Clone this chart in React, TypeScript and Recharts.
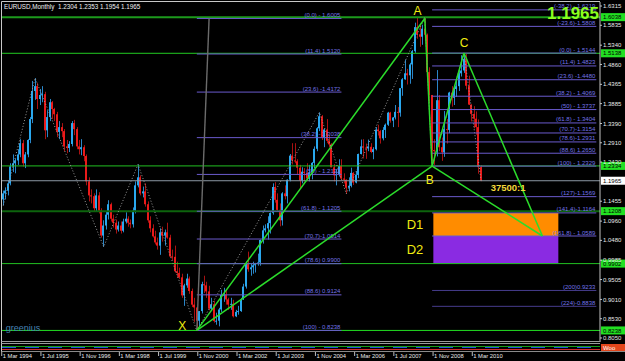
import React from "react";
import {
  ComposedChart,
  Bar,
  Line,
  XAxis,
  YAxis,
  ReferenceLine,
  ReferenceArea,
  ReferenceDot,
} from "recharts";

const FONT = "'Liberation Sans', Arial, sans-serif";

// monthly EURUSD, Mar 1994 .. Jun 2010 (index 0 = Mar 1994)
const opens = [
  1.150, 1.165, 1.172, 1.190, 1.232, 1.240, 1.247, 1.262, 1.290, 1.240,
  1.262, 1.298, 1.350, 1.420, 1.432, 1.400, 1.410, 1.412, 1.322, 1.355, 1.392, 1.375,
  1.362, 1.318, 1.330, 1.320, 1.282, 1.278, 1.288, 1.340, 1.325, 1.282, 1.275, 1.280,
  1.258, 1.195, 1.160, 1.158, 1.128, 1.160, 1.122, 1.060, 1.085, 1.112, 1.138, 1.102,
  1.092, 1.075, 1.085, 1.072, 1.095, 1.102, 1.092, 1.088, 1.122, 1.185, 1.205, 1.165,
  1.170, 1.138, 1.098, 1.078, 1.058, 1.043, 1.035, 1.068, 1.060, 1.068, 1.055, 1.008,
  1.007, 0.971, 0.967, 0.956, 0.911, 0.936, 0.953, 0.922, 0.888, 0.881, 0.848, 0.872,
  0.939, 0.936, 0.921, 0.878, 0.889, 0.847, 0.848, 0.876, 0.912, 0.913, 0.901, 0.888,
  0.890, 0.859, 0.870, 0.872, 0.901, 0.933, 0.991, 0.976, 0.981, 0.986, 0.989, 0.993,
  1.049, 1.073, 1.078, 1.091, 1.116, 1.181, 1.149, 1.124, 1.098, 1.165, 1.158, 1.199,
  1.259, 1.247, 1.245, 1.229, 1.197, 1.219, 1.216, 1.202, 1.217, 1.241, 1.276, 1.327,
  1.357, 1.304, 1.324, 1.296, 1.287, 1.230, 1.210, 1.213, 1.233, 1.202, 1.199, 1.179,
  1.184, 1.216, 1.192, 1.211, 1.263, 1.282, 1.279, 1.277, 1.281, 1.268, 1.275, 1.324,
  1.320, 1.302, 1.323, 1.336, 1.366, 1.346, 1.354, 1.368, 1.366, 1.427, 1.449, 1.464,
  1.459, 1.486, 1.519, 1.579, 1.561, 1.555, 1.575, 1.560, 1.467, 1.410, 1.273, 1.270,
  1.397, 1.280, 1.267, 1.325, 1.323, 1.416, 1.403, 1.425, 1.432, 1.464, 1.471, 1.500,
  1.433, 1.386, 1.363, 1.351, 1.330, 1.2304,
];
const highs = [
  1.172, 1.180, 1.198, 1.240, 1.262, 1.252, 1.275, 1.300, 1.298, 1.268,
  1.300, 1.355, 1.445, 1.452, 1.440, 1.425, 1.432, 1.418, 1.372, 1.400, 1.395, 1.378,
  1.368, 1.345, 1.340, 1.325, 1.298, 1.295, 1.345, 1.348, 1.330, 1.298, 1.300, 1.285,
  1.262, 1.205, 1.175, 1.165, 1.175, 1.168, 1.128, 1.098, 1.120, 1.148, 1.142, 1.112,
  1.100, 1.095, 1.095, 1.102, 1.118, 1.108, 1.100, 1.130, 1.195, 1.237, 1.210, 1.182,
  1.190, 1.145, 1.108, 1.088, 1.072, 1.055, 1.078, 1.082, 1.075, 1.092, 1.062, 1.025,
  1.035, 0.995, 0.980, 0.965, 0.940, 0.965, 0.958, 0.928, 0.905, 0.882, 0.872, 0.945,
  0.960, 0.945, 0.935, 0.905, 0.898, 0.868, 0.880, 0.925, 0.930, 0.925, 0.905, 0.905,
  0.900, 0.875, 0.885, 0.905, 0.940, 0.995, 1.020, 0.990, 0.995, 0.992, 1.015, 1.050,
  1.085, 1.088, 1.108, 1.118, 1.190, 1.193, 1.165, 1.140, 1.168, 1.185, 1.200, 1.263,
  1.290, 1.290, 1.250, 1.236, 1.230, 1.228, 1.240, 1.236, 1.243, 1.282, 1.330, 1.3667,
  1.360, 1.325, 1.350, 1.310, 1.290, 1.238, 1.225, 1.250, 1.250, 1.215, 1.200, 1.205,
  1.229, 1.218, 1.220, 1.264, 1.299, 1.300, 1.289, 1.299, 1.290, 1.280, 1.330, 1.336,
  1.323, 1.330, 1.339, 1.368, 1.368, 1.355, 1.385, 1.380, 1.427, 1.452, 1.498, 1.475,
  1.490, 1.522, 1.590, 1.602, 1.585, 1.585, 1.6038, 1.563, 1.479, 1.410, 1.300, 1.472,
  1.410, 1.304, 1.370, 1.350, 1.418, 1.432, 1.428, 1.445, 1.478, 1.509, 1.5144, 1.512,
  1.458, 1.387, 1.382, 1.369, 1.349, 1.2353,
];
const lows = [
  1.135, 1.150, 1.160, 1.185, 1.218, 1.215, 1.236, 1.255, 1.232, 1.228,
  1.255, 1.290, 1.340, 1.398, 1.375, 1.385, 1.392, 1.300, 1.305, 1.345, 1.350, 1.345,
  1.305, 1.300, 1.305, 1.270, 1.265, 1.268, 1.282, 1.310, 1.275, 1.262, 1.260, 1.245,
  1.185, 1.145, 1.140, 1.120, 1.120, 1.115, 1.055, 1.032, 1.075, 1.100, 1.095, 1.080,
  1.065, 1.070, 1.065, 1.068, 1.090, 1.082, 1.078, 1.080, 1.115, 1.180, 1.160, 1.155,
  1.132, 1.092, 1.068, 1.055, 1.038, 1.025, 1.012, 1.045, 1.035, 1.052, 1.005, 0.998,
  0.968, 0.955, 0.952, 0.905, 0.885, 0.930, 0.915, 0.882, 0.845, 0.8228, 0.835, 0.866,
  0.917, 0.905, 0.874, 0.872, 0.843, 0.838, 0.834, 0.870, 0.895, 0.888, 0.875, 0.875,
  0.856, 0.857, 0.863, 0.870, 0.900, 0.928, 0.970, 0.960, 0.965, 0.968, 0.985, 0.985,
  1.040, 1.068, 1.050, 1.065, 1.112, 1.142, 1.120, 1.083, 1.085, 1.150, 1.140, 1.195,
  1.237, 1.240, 1.211, 1.176, 1.190, 1.195, 1.199, 1.195, 1.200, 1.228, 1.270, 1.320,
  1.298, 1.280, 1.290, 1.280, 1.230, 1.195, 1.185, 1.207, 1.200, 1.190, 1.164, 1.170,
  1.180, 1.186, 1.190, 1.203, 1.262, 1.252, 1.251, 1.270, 1.265, 1.250, 1.272, 1.309,
  1.289, 1.297, 1.303, 1.333, 1.341, 1.330, 1.349, 1.330, 1.356, 1.408, 1.448, 1.436,
  1.438, 1.450, 1.515, 1.550, 1.530, 1.535, 1.556, 1.450, 1.390, 1.233, 1.236, 1.257,
  1.270, 1.246, 1.256, 1.289, 1.315, 1.381, 1.385, 1.405, 1.420, 1.456, 1.465, 1.424,
  1.385, 1.344, 1.327, 1.311, 1.214, 1.1954,
];
const closes = [
  1.165, 1.172, 1.190, 1.232, 1.240, 1.247, 1.262, 1.290, 1.240, 1.262,
  1.298, 1.350, 1.420, 1.432, 1.400, 1.410, 1.412, 1.322, 1.355, 1.392, 1.375, 1.362,
  1.318, 1.330, 1.320, 1.282, 1.278, 1.288, 1.340, 1.325, 1.282, 1.275, 1.280, 1.258,
  1.195, 1.160, 1.158, 1.128, 1.160, 1.122, 1.060, 1.085, 1.112, 1.138, 1.102, 1.092,
  1.075, 1.085, 1.072, 1.095, 1.102, 1.092, 1.088, 1.122, 1.185, 1.205, 1.165, 1.170,
  1.138, 1.098, 1.078, 1.058, 1.043, 1.035, 1.068, 1.060, 1.068, 1.055, 1.008, 1.007,
  0.971, 0.967, 0.956, 0.911, 0.936, 0.953, 0.922, 0.888, 0.881, 0.848, 0.872, 0.939,
  0.936, 0.921, 0.878, 0.889, 0.847, 0.848, 0.876, 0.912, 0.913, 0.901, 0.888, 0.890,
  0.859, 0.870, 0.872, 0.901, 0.933, 0.991, 0.976, 0.981, 0.986, 0.989, 0.993, 1.049,
  1.073, 1.078, 1.091, 1.116, 1.181, 1.149, 1.124, 1.098, 1.165, 1.158, 1.199, 1.259,
  1.247, 1.245, 1.229, 1.197, 1.219, 1.216, 1.202, 1.217, 1.241, 1.276, 1.327, 1.357,
  1.304, 1.324, 1.296, 1.287, 1.230, 1.210, 1.213, 1.233, 1.202, 1.199, 1.179, 1.184,
  1.216, 1.192, 1.211, 1.263, 1.282, 1.279, 1.277, 1.281, 1.268, 1.275, 1.324, 1.320,
  1.302, 1.323, 1.336, 1.366, 1.346, 1.354, 1.368, 1.366, 1.427, 1.449, 1.464, 1.459,
  1.486, 1.519, 1.579, 1.561, 1.555, 1.575, 1.560, 1.467, 1.410, 1.273, 1.270, 1.397,
  1.280, 1.267, 1.325, 1.323, 1.416, 1.403, 1.425, 1.432, 1.464, 1.471, 1.500, 1.433,
  1.386, 1.363, 1.351, 1.330, 1.2304, 1.1965,
];

const slots = 244; // months shown incl. empty future space

const timeTicks = [0, 16, 32, 48, 64, 80, 96, 112, 128, 144, 160, 176, 192];
const timeLabels = [
  "1 Mar 1994", "1 Jul 1995", "1 Nov 1996", "1 Mar 1998", "1 Jul 1999",
  "1 Nov 2000", "1 Mar 2002", "1 Jul 2003", "1 Nov 2004", "1 Mar 2006",
  "1 Jul 2007", "1 Nov 2008", "1 Mar 2010",
];
const priceTicks = [
  1.6315, 1.5835, 1.534, 1.486, 1.4365, 1.3885, 1.339, 1.291, 1.243,
  1.1455, 1.096, 1.048, 0.9985, 0.9505, 0.901, 0.853, 0.805,
];

// zigzag pivots
const zzIdx = [0, 13, 41, 55, 79, 129, 140, 172, 175, 188, 195];
const zzVal = [1.135, 1.452, 1.032, 1.237, 0.8228, 1.3667, 1.164, 1.6038, 1.233, 1.5144, 1.1954];

// pattern points [month index, price]
const ptX = [79, 0.8238];
const ptA = [172, 1.6005];
const ptB = [175, 1.2329];
const ptC = [188, 1.5144];
const ptD = [220, 1.0589];

// XA retracement
const xaPrices = [1.6005, 1.512, 1.4172, 1.3038, 1.2122, 1.1205, 1.0514, 0.99, 0.9124, 0.8238];
const xaLabels = [
  "(0.0) - 1.6005", "(11.4) 1.5120", "(23.6) -1.4172", "(38.2) - 1.3038", "(50) - 1.2122",
  "(61.8) - 1.1205", "(70.7)-1.0514", "(78.6) 0.9900", "(88.6) 0.9124", "(100) - 0.8238",
];
const xaEnd = 138;

// BC levels
const bcPrices = [
  1.6219, 1.5808, 1.5144, 1.4823, 1.448, 1.4069, 1.3737, 1.3404, 1.3154,
  1.2931, 1.265, 1.2329, 1.1569, 1.1164, 1.0589, 0.9233, 0.8838,
];
const bcLabels = [
  "(-38.2) - 1.6219", "(-23.6)-1.5808", "(0.0) - 1.5144", "(11.4) 1.4823", "(23.6) -1.4480",
  "(38.2) - 1.4069", "(50) - 1.3737", "(61.8) - 1.3404", "(70.7)-1.3154", "(78.6)-1.2931",
  "(88.6) 1.2650", "(100) - 1.2329", "(127)-1.1569", "(141.4)-1.1164", "(161.8) - 1.0589",
  "(200)0.9233", "(224)-0.8838",
];
const bcEnd = 242;

// horizontal lines with axis boxes
const hPrices = [1.6038, 1.5138, 1.2334, 1.1208, 0.9902, 0.8238];
const hColors = ["#1c9a1c", "#22cc22", "#22c022", "#0d640d", "#22c022", "#22dd22"];
const hWidths = [2, 1, 1, 2, 1, 1];
const lastPrice = 1.1965;

const zones = [
  { name: "D1", top: 1.1164, bottom: 1.0589, color: "#ff8c00" },
  { name: "D2", top: 1.0589, bottom: 0.99, color: "#8a2be2" },
];

const rows = Array.from({ length: slots }, (_, i) => {
  const k = zzIdx.indexOf(i);
  return i < closes.length
    ? { i, hl: [lows[i], highs[i]], o: opens[i], c: closes[i], zz: k >= 0 ? zzVal[k] : null }
    : { i, hl: null, o: null, c: null, zz: null };
});

const FIB = "#6a5acd";
const FIB_TXT = "#7474e8";
const PAT = "#2bdc2b";
const YEL = "#f0ec10";

function Candle(props: any) {
  const { x, y, width, height, payload } = props;
  if (!payload || !payload.hl || !isFinite(y) || !isFinite(height)) return null;
  const [lo, hi] = payload.hl;
  const top = Math.min(y, y + height);
  const bot = Math.max(y, y + height);
  const span = hi - lo || 1;
  const py = (v: number) => top + ((hi - v) / span) * (bot - top);
  const up = payload.c >= payload.o;
  const bt = py(Math.max(payload.o, payload.c));
  const bb = py(Math.min(payload.o, payload.c));
  const rx = Math.round(x);
  const wx = Math.round(x + width / 2) + 0.5;
  return (
    <g>
      <line x1={wx} x2={wx} y1={top} y2={bot} stroke={up ? "#2a86c8" : "#a81212"} strokeWidth={1} />
      <rect x={rx} y={bt} width={2} height={Math.max(1, bb - bt)} fill={up ? "#2aa8ee" : "#ea1a1a"} />
    </g>
  );
}

function TimeTick(props: any) {
  const { x, y, payload } = props;
  const k = timeTicks.indexOf(payload.value);
  return (
    <g>
      <line x1={x - 1.5} x2={x - 1.5} y1={y + 9} y2={y + 14} stroke="#bdbdbd" strokeWidth={1} />
      <text x={x - 0.5} y={y + 15.5} fontSize={5.8} fontFamily={FONT} fill="#e8e8e8">
        {timeLabels[k]}
      </text>
    </g>
  );
}

function PriceTick(props: any) {
  const { x, y, payload } = props;
  return (
    <text x={x} y={y + 2.1} fontSize={6} fontFamily={FONT} fill="#e8e8e8">
      {Number(payload.value).toFixed(4)}
    </text>
  );
}

const fibLabel = (text: string) => (props: any) => {
  const vb = props.viewBox || {};
  return (
    <text x={vb.x + vb.width - 1} y={vb.y - 1.5} textAnchor="end" fontSize={6} fontFamily={FONT} fill={FIB_TXT}>
      {text}
    </text>
  );
};

const axisBox = (text: string, bg: string) => (props: any) => {
  const vb = props.viewBox || {};
  const bx = vb.x + vb.width + 1;
  return (
    <g>
      <rect x={bx} y={vb.y - 4} width={24} height={8} fill={bg} />
      <text x={bx + 2} y={vb.y + 2.2} fontSize={6} fontFamily={FONT} fill="#000">
        {text}
      </text>
    </g>
  );
};

const mark = (text: string, size: number, color: string, bold = false, anchor = "middle") => (p: any) => (
  <text
    x={p.cx}
    y={p.cy}
    textAnchor={anchor}
    fontSize={size}
    fontWeight={bold ? "bold" : "normal"}
    fontFamily={FONT}
    fill={color}
  >
    {text}
  </text>
);

const seg = (a: number[], b: number[]) => [
  { x: a[0], y: a[1] },
  { x: b[0], y: b[1] },
];

export default function App() {
  return (
    <div style={{ position: "fixed", left: 0, top: 0, width: 625, height: 361, background: "#000", overflow: "hidden" }}>
      <ComposedChart
        width={625}
        height={361}
        data={rows}
        margin={{ top: 2, right: 0, bottom: 0, left: 2 }}
        barCategoryGap={0}
      >
        <XAxis
          dataKey="i"
          type="category"
          ticks={timeTicks}
          interval={0}
          height={19}
          axisLine={false}
          tickLine={false}
          tickSize={0}
          tickMargin={0}
          tick={<TimeTick />}
        />
        <YAxis
          orientation="right"
          type="number"
          domain={[0.795, 1.6415]}
          allowDataOverflow
          ticks={priceTicks}
          interval={0}
          width={25}
          axisLine={{ stroke: "#c4c4c4" }}
          tickLine={{ stroke: "#c4c4c4" }}
          tickSize={2}
          tickMargin={1}
          tick={<PriceTick />}
        />

        {zones.map((z) => (
          <ReferenceArea
            key={z.name}
            x1={176}
            x2={226}
            y1={z.bottom}
            y2={z.top}
            fill={z.color}
            fillOpacity={1}
            stroke="none"
          />
        ))}

        {hPrices.map((v, k) => (
          <ReferenceLine
            key={"h" + k}
            y={v}
            stroke={hColors[k]}
            strokeWidth={hWidths[k]}
            label={axisBox(v.toFixed(4), "#22e022")}
          />
        ))}
        <ReferenceLine y={lastPrice} stroke="#8c98a4" strokeWidth={1} label={axisBox(lastPrice.toFixed(4), "#ffffff")} />

        <Bar dataKey="hl" barSize={2} shape={<Candle />} isAnimationActive={false} />
        <Line
          dataKey="zz"
          connectNulls
          stroke="#9a9a9a"
          strokeWidth={1}
          strokeDasharray="1 2"
          dot={false}
          activeDot={false}
          isAnimationActive={false}
        />

        {xaPrices.map((v, k) => (
          <ReferenceLine
            key={"xa" + k}
            segment={[{ x: ptX[0], y: v }, { x: xaEnd, y: v }]}
            stroke={FIB}
            strokeWidth={1}
            label={fibLabel(xaLabels[k])}
          />
        ))}
        {bcPrices.map((v, k) => (
          <ReferenceLine
            key={"bc" + k}
            segment={[{ x: ptB[0], y: v }, { x: bcEnd, y: v }]}
            stroke={k >= 15 ? "#463c8c" : FIB}
            strokeWidth={1}
            label={fibLabel(bcLabels[k])}
          />
        ))}

        <ReferenceLine segment={seg(ptX, [84, 1.6005])} stroke="#6c6c6c" strokeWidth={1.4} />

        <ReferenceLine segment={seg(ptX, ptA)} stroke={PAT} strokeWidth={1.5} />
        <ReferenceLine segment={seg(ptA, ptB)} stroke={PAT} strokeWidth={1.5} />
        <ReferenceLine segment={seg(ptX, ptB)} stroke={PAT} strokeWidth={1.5} />
        <ReferenceLine segment={seg(ptB, ptC)} stroke={PAT} strokeWidth={1.5} />
        <ReferenceLine segment={seg(ptC, ptD)} stroke={PAT} strokeWidth={1.5} />
        <ReferenceLine segment={seg(ptB, ptD)} stroke={PAT} strokeWidth={1.5} />

        <ReferenceDot x={169} y={1.6079} shape={mark("A", 12, YEL)} />
        <ReferenceDot x={174} y={1.1884} shape={mark("B", 12, YEL)} />
        <ReferenceDot x={188} y={1.5295} shape={mark("C", 12, YEL)} />
        <ReferenceDot x={73} y={0.825} shape={mark("X", 12, YEL)} />
        <ReferenceDot x={168} y={1.0763} shape={mark("D1", 13, YEL)} />
        <ReferenceDot x={168} y={1.0129} shape={mark("D2", 13, YEL)} />
        <ReferenceDot x={206} y={1.1709} shape={mark("37500:1", 9.5, "#f2d83a", true)} />
        <ReferenceDot x={1} y={0.8236} shape={mark("greenius", 9, "#4682b4", false, "start")} />
      </ComposedChart>

      <svg width={625} height={361} style={{ position: "absolute", left: 0, top: 0, pointerEvents: "none" }}>
        <line x1={1.5} x2={600} y1={1.5} y2={1.5} stroke="#c8c8c8" />
        <line x1={1.5} x2={1.5} y1={1.5} y2={352} stroke="#c8c8c8" />
        <line x1={1.5} x2={600} y1={341.5} y2={341.5} stroke="#9a9a9a" />
        <line x1={1.5} x2={600} y1={343.5} y2={343.5} stroke="#9a9a9a" />
        <line x1={2} x2={600} y1={346.5} y2={346.5} stroke="#159a15" />
        <line x1={2} x2={600} y1={347.5} y2={347.5} stroke="#2a50d8" strokeDasharray="14 9" />
        <line x1={2} x2={600} y1={349.5} y2={349.5} stroke="#d02a2a" />
        <line x1={1.5} x2={625} y1={351.5} y2={351.5} stroke="#8a8a8a" />
        <rect x={601} y={344} width={24} height={7} fill="#e2461c" />
        <text x={603} y={350} fontSize={6} fontFamily={FONT} fill="#fff">Woo</text>
        <text x={4} y={9} fontSize={6.3} fontFamily={FONT} fill="#f0f0f0" style={{ whiteSpace: "pre" }}>
          {"EURUSD,Monthly  1.2304 1.2353 1.1954 1.1965"}
        </text>
        <text x={599} y={19} textAnchor="end" fontSize={17} fontWeight="bold" fontFamily={FONT} fill="#8cff1e">
          1.1965
        </text>
      </svg>
    </div>
  );
}
